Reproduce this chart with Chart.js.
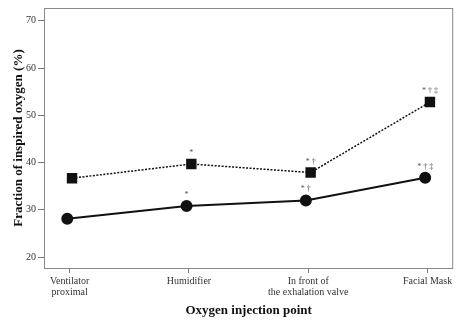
<!DOCTYPE html>
<html>
<head>
<meta charset="utf-8">
<script src="https://cdn.jsdelivr.net/npm/chart.js@4"></script>
<style>
  html, body { margin: 0; padding: 0; background: #fff; }
  #wrap { width: 461px; height: 324px; }
</style>
</head>
<body>
<div id="wrap"><canvas id="myChart"></canvas></div>
<script>
const categories = [["Ventilator", "proximal"], "Humidifier", ["In front of", "the exhalation valve"], "Facial Mask"];
const squareValues = [36.7, 39.7, 37.9, 52.8];
const circleValues = [28.1, 30.8, 32.0, 36.8];
const squareMarks = ["", "*", "* \u2020", "* \u2020 \u2021"];
const circleMarks = ["", "*", "* \u2020", "* \u2020 \u2021"];
const yTicks = [20, 30, 40, 50, 60, 70];

const serif = "'Liberation Serif', 'Times New Roman', serif";
const dodge = 0.02;

// frame round the plot + significance marks above points
const extras = {
  id: 'extras',
  afterDatasetsDraw(chart) {
    const ctx = chart.ctx;
    const a = chart.chartArea;
    ctx.save();
    ctx.strokeStyle = '#8a8a8a';
    ctx.lineWidth = 1;
    ctx.strokeRect(a.left + 0.5, a.top + 0.5, a.right - a.left - 1, a.bottom - a.top);
    ctx.fillStyle = '#555';
    ctx.font = '8px ' + serif;
    ctx.textAlign = 'center';
    ctx.textBaseline = 'bottom';
    [squareMarks, circleMarks].forEach((marks, di) => {
      chart.getDatasetMeta(di).data.forEach((pt, i) => {
        if (marks[i]) ctx.fillText(marks[i], pt.x, pt.y - 7);
      });
    });
    ctx.restore();
  }
};

new Chart("myChart", {
  type: "line",
  data: {
    datasets: [{
      data: squareValues.map((v, i) => ({x: i + dodge, y: v})),
      borderColor: '#111',
      backgroundColor: '#111',
      borderWidth: 1.5,
      borderDash: [2, 1.5],
      pointStyle: 'rect',
      pointRadius: 6.3,
      pointHoverRadius: 6.3
    }, {
      data: circleValues.map((v, i) => ({x: i - dodge, y: v})),
      borderColor: '#111',
      backgroundColor: '#111',
      borderWidth: 2,
      pointStyle: 'circle',
      pointRadius: 5,
      pointHoverRadius: 5
    }]
  },
  options: {
    responsive: true,
    maintainAspectRatio: false,
    animation: false,
    layout: { padding: { top: 7, right: 5, left: 0, bottom: 0 } },
    plugins: {
      legend: { display: false },
      tooltip: { enabled: false }
    },
    scales: {
      x: {
        type: 'linear',
        min: -0.215,
        max: 3.215,
        afterBuildTicks: s => { s.ticks = categories.map((c, i) => ({value: i})); },
        afterFit: s => { s.height = 56; },
        grid: { drawOnChartArea: false, drawTicks: true, tickLength: 5, color: '#777' },
        border: { display: false },
        ticks: {
          color: '#333',
          padding: 3,
          maxRotation: 0,
          autoSkip: false,
          font: { family: serif, size: 10, lineHeight: 1.1 },
          callback: v => categories[v]
        },
        title: {
          display: true,
          text: 'Oxygen injection point',
          color: '#111',
          font: { family: serif, size: 13, weight: 'bold' },
          padding: { top: 4, bottom: 6 }
        }
      },
      y: {
        min: 17.7,
        max: 72.7,
        afterBuildTicks: s => { s.ticks = yTicks.map(v => ({value: v})); },
        afterFit: s => { s.width = 44; },
        grid: { drawOnChartArea: false, drawTicks: true, tickLength: 6, color: '#777' },
        border: { display: false },
        ticks: {
          color: '#333',
          padding: 2,
          font: { family: serif, size: 10 }
        },
        title: {
          display: true,
          text: 'Fraction of inspired oxygen (%)',
          color: '#111',
          font: { family: serif, size: 13, weight: 'bold' },
          padding: { top: 11, bottom: 0 }
        }
      }
    }
  },
  plugins: [extras]
});
</script>
</body>
</html>
